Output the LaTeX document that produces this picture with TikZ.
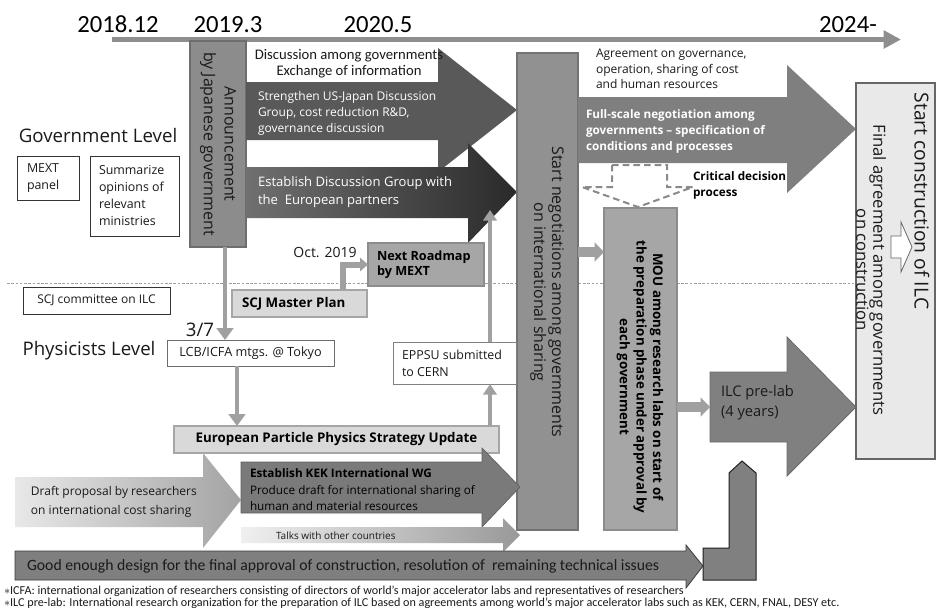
\documentclass[tikz,border=0pt]{standalone}
\usepackage{fontspec}
\setmainfont{Open Sans}
\newfontfamily\cond{Carlito}
\usetikzlibrary{arrows.meta,fit}
\newcommand\myfs[2]{\fontsize{#1pt}{#2pt}\selectfont}
\definecolor{tlc}{HTML}{8E8E8E}
\definecolor{annc}{HTML}{8C8C8C}
\definecolor{annd}{HTML}{6E6E6E}
\definecolor{aonec}{HTML}{595959}
\definecolor{atwol}{HTML}{707070}
\definecolor{atwor}{HTML}{2A2A2A}
\definecolor{negc}{HTML}{919191}
\definecolor{negd}{HTML}{737373}
\definecolor{fullc}{HTML}{7F7F7F}
\definecolor{mouc}{HTML}{A6A6A6}
\definecolor{moud}{HTML}{8C8C8C}
\definecolor{prec}{HTML}{808080}
\definecolor{pred}{HTML}{6A6A6A}
\definecolor{conc}{HTML}{E9E9E9}
\definecolor{conbd}{HTML}{666666}
\definecolor{lightbox}{HTML}{D9D9D9}
\definecolor{lightd}{HTML}{A6A6A6}
\definecolor{roadc}{HTML}{A6A6A6}
\definecolor{roadd}{HTML}{8C8C8C}
\definecolor{connc}{HTML}{A0A0A0}
\definecolor{kekc}{HTML}{7A7A7A}
\definecolor{kekd}{HTML}{606060}
\definecolor{goodc}{HTML}{7F7F7F}
\definecolor{goodd}{HTML}{3C3C3C}
\definecolor{dashc}{HTML}{8A8A8A}
\definecolor{txt}{HTML}{1A1A1A}
\begin{document}
\begin{tikzpicture}[x=0.75pt,y=-0.75pt,
  every node/.style={inner sep=0pt,outer sep=0pt,text=txt},
  conn/.style={draw=connc,line width=3.6pt,-{Triangle[length=9pt,width=12.5pt]}},
  thinconn/.style={draw=connc,line width=3pt,-{Triangle[length=8pt,width=10pt]}},
  fatconn/.style={draw=connc,line width=7.5pt,-{Triangle[length=7pt,width=14pt]}},
  boxfit/.style={inner sep=0pt,outer sep=0pt},
  wbox/.style={boxfit,fill=white,draw=#1,line width=0.75pt},
]
\fill[white] (0,0) rectangle (938,608);
\useasboundingbox (0,0) rectangle (938,608);

% separator
\coordinate (sepL) at (7,283);
\coordinate (sepR) at (856,283);
\draw[gray!75,line width=0.6pt,dash pattern=on 2pt off 1.2pt] (sepL) -- (sepR);

% timeline
\coordinate (tlA) at (112,39.5);
\coordinate (tlB) at (901,39.5);
\draw[tlc,line width=3.6pt,-{Triangle[length=13pt,width=13pt]}] (tlA) -- (tlB);
\node[font=\cond\myfs{18.5}{22},anchor=base,text=black] (y1) at (118,32) {2018.12};
\node[font=\cond\myfs{18.5}{22},anchor=base,text=black] (y2) at (228,32) {2019.3};
\node[font=\cond\myfs{18.5}{22},anchor=base,text=black] (y3) at (378,32) {2020.5};
\node[font=\cond\myfs{18.5}{22},anchor=base,text=black] (y4) at (848,32) {2024-};

% level labels
\node[font=\myfs{14}{17}] (govlvl) at (98,135) {Government Level};
\node[font=\myfs{14}{17}] (phylvl) at (89,351) {Physicists Level};
\node[font=\myfs{14}{17}] (d37) at (200,330) {3/7};

% left boxes
\node[fit={(17,156) (79,200)},wbox=black!80] (mext) {};
\node[font=\myfs{9.3}{12.75},align=left,anchor=west] at (27,178) {MEXT\\panel};
\node[fit={(90,156) (179,236)},wbox=black!80] (summ) {};
\node[font=\myfs{9.3}{12.75},align=left,anchor=west] at (99,196) {Summarize\\opinions of\\relevant\\ministries};
\node[fit={(23,287) (170,314)},wbox=black!80] (scjc) {};
\node[font=\myfs{9}{11}] at (scjc) {SCJ committee on ILC};

% announcement box
\node[fit={(190,41) (246,247)},boxfit,fill=annc,draw=annd,line width=1.2pt] (ann) {};
\node[rotate=-90,align=center,font=\myfs{12}{15.5}] at (218,144) {Announcement\\by Japanese government};

% arrow 1
\fill[aonec] (246,82) -- (438,82) -- (438,48) -- (517,110) -- (438,172) -- (438,140) -- (246,140) -- cycle;
\node[font=\myfs{9}{12},align=left,anchor=west,text=white] (a1t) at (258,113) {Strengthen US-Japan Discussion\\Group, cost reduction R\&D,\\governance discussion};

% discussion texts
\node[font=\cond\myfs{11}{12},align=center] (disc) at (349,64) {Discussion among governments\\Exchange of information};

% arrow 2
\shade[left color=atwol,right color=atwor] (246,167) -- (468,167) -- (468,143) -- (517,192) -- (468,243) -- (468,218) -- (246,218) -- cycle;
\node[font=\myfs{9.8}{13.5},align=left,anchor=west,text=white] (a2t) at (258,192) {Establish Discussion Group with\\the\ \ European partners};

% start negotiations box
\node[fit={(517,53) (578,530)},boxfit,fill=negc,draw=negd,line width=1pt] (neg) {};
\node[rotate=-90,align=center,font=\myfs{12}{13.5}] at (547,292) {Start negotiations among governments\\on international sharing};

% agreement text
\node[font=\myfs{9}{11.6},align=left,anchor=west] (agr) at (596,69) {Agreement on governance,\\operation, sharing of cost\\and human resources};

% arrow 3 full-scale
\fill[fullc] (578,97) -- (787,97) -- (787,65) -- (856,129) -- (787,193) -- (787,163) -- (578,163) -- cycle;
\node[font=\bfseries\myfs{8.8}{12},align=left,anchor=west,text=white] (a3t) at (586,131) {Full-scale negotiation among\\governments -- specification of\\conditions and processes};

% critical decision dashed arrow
\draw[dashc,line width=1.5pt,dash pattern=on 5pt off 3pt] (612,165) -- (667,165) -- (667,187) -- (693,187) -- (638,207) -- (582,187) -- (612,187) -- cycle;
\node[font=\bfseries\myfs{8.8}{12},align=left,anchor=west,text=black] (crit) at (693,185) {Critical decision\\process};

% MOU box
\node[fit={(604,208) (677,530)},boxfit,fill=mouc,draw=moud,line width=1pt] (mou) {};
\node[rotate=-90,align=center,font=\bfseries\myfs{10}{12.4},text=black] at (640,377) {MOU among research labs on start of\\the preparation phase under approval by\\each government};

% construction box
\node[fit={(856,83) (935,459)},boxfit,fill=conc,draw=conbd,line width=1.6pt] (con) {};
\node[rotate=-90,font=\myfs{14.5}{16}] (cont) at (922,201) {Start construction of ILC};
\node[rotate=-90,align=center,font=\myfs{12.5}{12.75}] (fin) at (871,270) {Final agreement among governments\\on construction};
\draw[fill=white,draw=gray!80!black,line width=0.6pt] (891,236) -- (901,236) -- (901,222) -- (912,247) -- (901,272) -- (901,258) -- (891,258) -- cycle;

% ILC pre-lab arrow
\filldraw[fill=prec,draw=pred,line width=0.6pt] (710,372) -- (787,372) -- (787,337) -- (856,407) -- (787,476) -- (787,442) -- (710,442) -- cycle;
\node[font=\myfs{11}{15},align=left,anchor=west] (prelab) at (721,403) {ILC pre-lab\\(4 years)};
\coordinate (plin) at (710,407);

% Next roadmap / SCJ master plan
\node[fit={(368,243) (484,286)},boxfit,fill=roadc,draw=roadd,line width=1pt] (road) {};
\node[font=\bfseries\myfs{9.5}{11.5},align=left,anchor=west,text=black] at (377,265) {Next Roadmap\\by MEXT};
\node[fit={(232,290) (367,317)},boxfit,fill=lightbox,draw=lightd,line width=1pt] (scjm) {};
\node[font=\bfseries\myfs{10}{12},anchor=west,text=black] at (242,304) {SCJ Master Plan};
\node[font=\myfs{10.5}{12}] (oct) at (325,253) {Oct. 2019};

% LCB, EPPSU, European
\node[fit={(167,340) (334,366)},wbox=gray!85!black] (lcb) {};
\node[font=\myfs{9.5}{11}] at (lcb) {LCB/ICFA mtgs. @ Tokyo};
\node[fit={(393,342) (516,384)},wbox=gray] (eppsu) {};
\node[font=\myfs{9.3}{12.75},align=left,anchor=west] at (402,363) {EPPSU submitted\\to CERN};
\node[fit={(174,426) (499,453)},boxfit,fill=lightbox,draw=lightd,line width=1pt] (epps) {};
\node[font=\bfseries\myfs{10}{12},text=black] at (epps) {European Particle Physics Strategy Update};

% draft arrow
\shade[left color=black!9,right color=black!36] (15,477) -- (203,477) -- (203,453) -- (241,500) -- (203,548) -- (203,527) -- (15,527) -- cycle;
\node[font=\myfs{9}{14.5},align=left,anchor=west] (draft) at (31,502) {Draft proposal by researchers\\on international cost sharing};

% KEK arrow
\filldraw[fill=kekc,draw=kekd,line width=0.5pt] (241,462) -- (482,462) -- (482,448) -- (520,487) -- (482,527) -- (482,513) -- (241,513) -- cycle;
\node[font=\myfs{8.8}{12.4},align=left,anchor=west,text=black] (kek) at (250,490) {\textbf{Establish KEK International WG}\\Produce draft for international sharing of\\human and material resources};

% talks arrow
\shade[left color=black!6,right color=black!40] (241,527) -- (503,527) -- (503,518) -- (520,535) -- (503,552) -- (503,543) -- (241,543) -- cycle;
\node[font=\myfs{7.5}{9},anchor=west] (talks) at (276,536) {Talks with other countries};

% good enough arrow
\filldraw[fill=goodc,draw=goodd,line width=0.6pt] (15,551) -- (686,551) -- (686,545) -- (703,566) -- (686,588) -- (686,580) -- (15,580) -- cycle;
\node[font=\cond\myfs{11.8}{12},anchor=west] (good) at (27,566) {Good enough design for the final approval of construction, resolution of\ \ remaining technical issues};

% L shape
\filldraw[fill=prec,draw=black!88,line width=0.75pt] (703,548) -- (729,548) -- (729,473) -- (742,461) -- (756,473) -- (756,580) -- (703,580) -- cycle;

% footnotes
\node[font=\cond\myfs{9.1}{9},anchor=west] (fn1) at (4,591) {$\ast$ICFA: international organization of researchers consisting of directors of world’s major accelerator labs and representatives of researchers};
\node[font=\cond\myfs{9.1}{9},anchor=west] (fn2) at (4,603) {$\ast$ILC pre-lab: International research organization for the preparation of ILC based on agreements among world’s major accelerator labs such as KEK, CERN, FNAL, DESY etc.};

% connectors
\coordinate (annx) at (225,0);
\draw[conn] (ann.south -| annx) -- (lcb.north -| annx);
\coordinate (lcbx) at (237,0);
\draw[conn] (lcb.south -| lcbx) -- (epps.north -| lcbx);
\coordinate (epx) at (490,0);
\draw[thinconn] (epps.north -| epx) -- (eppsu.south -| epx);
\coordinate (a2hit) at (490,210);
\draw[thinconn] (eppsu.north -| epx) -- (a2hit);
\coordinate (scx) at (343,0);
\draw[draw=connc,line width=4.5pt,-{Triangle[length=6pt,width=10pt]}] (scjm.north -| scx) |- (road.west);
\coordinate (ny) at (0,252);
\draw[fatconn] (neg.east |- ny) -- (mou.west |- ny);
\draw[fatconn] (mou.east |- plin) -- (plin);
\end{tikzpicture}
\end{document}
